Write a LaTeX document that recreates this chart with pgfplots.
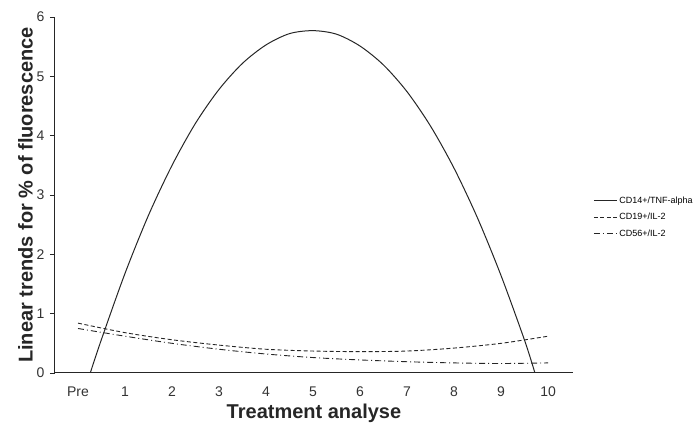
\documentclass[border=0pt]{standalone}
\usepackage{pgfplots}
\pgfplotsset{compat=1.18}
\usepackage{fontspec}
\setmainfont{Liberation Sans}
\begin{document}
\begin{tikzpicture}
\path[use as bounding box] (-55pt,-62pt) rectangle (644pt,373pt);
\begin{axis}[
    at={(0,0)}, anchor=south west,
    scale only axis,
    width=518pt, height=356pt,
    xmin=-0.49, xmax=10.53,
    ymin=0, ymax=6,
    axis lines=left,
    axis line style={-, line width=1pt, color=black!85},
    xtick={0,1,2,3,4,5,6,7,8,9,10},
    xticklabels={Pre,1,2,3,4,5,6,7,8,9,10},
    x tick style={draw=none},
    ytick={0,1,2,3,4,5,6},
    y tick style={line width=0.8pt, color=black!85},
    tick align=outside,
    major tick length=5pt,
    ticklabel style={font=\fontsize{14}{15}\selectfont, color=black!80},
    xticklabel style={yshift=-5pt},
    yticklabel style={xshift=-2pt},
    /pgf/number format/assume math mode=true,
    xlabel={\textbf{Treatment analyse}},
    ylabel={\textbf{Linear trends for \% of fluorescence}},
    label style={font=\fontsize{20}{22}\selectfont, color=black!85},
    xlabel style={yshift=-1pt},
    ylabel style={yshift=-3pt},
    legend style={at={(1.033,0.438)}, anchor=west, draw=none, fill=none,
        font=\fontsize{9}{10}\selectfont, row sep=4.5pt},
    legend cell align=left,
    legend image code/.code={\draw[#1] (0pt,0pt) -- (23pt,0pt);},
]
\addplot[black!85, line width=1pt, smooth] coordinates {
    (0.26,0) (0.5,0.57) (1,1.68) (1.5,2.66) (2,3.50) (2.5,4.21) (3,4.78) (3.5,5.22)
    (4,5.53) (4.5,5.72) (5,5.77) (5.5,5.71) (6,5.51) (6.5,5.19) (7,4.74)
    (7.5,4.16) (8,3.45) (8.5,2.61) (9,1.64) (9.5,0.55) (9.72,0)
};
\addlegendentry{CD14+/TNF-alpha}
\addplot[black!85, line width=0.9pt, smooth, dash pattern=on 4pt off 2.5pt] coordinates {
    (0,0.84) (1,0.68) (2,0.56) (3,0.47) (4,0.40) (5,0.37) (6,0.36)
    (7,0.37) (8,0.42) (9,0.50) (10,0.62)
};
\addlegendentry{CD19+/IL-2}
\addplot[black!85, line width=0.9pt, smooth, dash pattern=on 6pt off 3pt on 1pt off 3pt] coordinates {
    (0,0.75) (1,0.62) (2,0.50) (3,0.40) (4,0.32) (5,0.26) (6,0.22)
    (7,0.19) (8,0.17) (9,0.16) (10,0.17)
};
\addlegendentry{CD56+/IL-2}
\end{axis}
\end{tikzpicture}
\end{document}
